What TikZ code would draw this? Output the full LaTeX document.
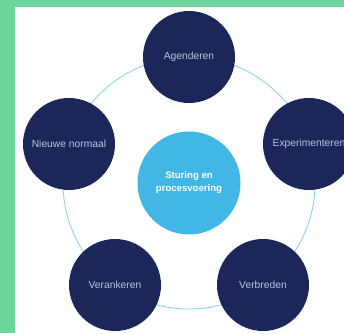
\documentclass[tikz,border=0pt]{standalone}
\usepackage{fontspec}
\setmainfont{Liberation Sans}
\definecolor{bggreen}{HTML}{6DD49B}
\definecolor{navy}{HTML}{1B2759}
\definecolor{skyblue}{HTML}{42B6E5}
\definecolor{ringblue}{HTML}{8ED2F0}
\definecolor{labelgrey}{HTML}{BCC2DC}
\begin{document}
\begin{tikzpicture}[x=1pt,y=1pt,
  phase/.style={circle,fill=navy,minimum size=92pt,inner sep=0pt,text=labelgrey,font=\fontsize{10.3}{12}\selectfont},
  core/.style={circle,fill=skyblue,minimum size=103pt,inner sep=0pt,text=white,align=center,font=\fontsize{9.6}{13}\selectfont\bfseries}]
\useasboundingbox (0,0) rectangle (344,333);
\clip (0,0) rectangle (344,333);
\fill[bggreen] (0,0) rectangle (344,333);
\fill[white] (15,0) rectangle (344,326);
\coordinate (c) at (189,150);
\draw[ringblue,line width=0.9pt] (c) circle[radius=126];
\node[core] (mid) at (c) {Sturing en\\procesvoering};
\node[phase] (agenderen) at (189,276) {Agenderen};
\node[phase] (experimenteren) at (309,189) {Experimenteren};
\node[phase] (verbreden) at (263,48) {Verbreden};
\node[phase] (verankeren) at (115,48) {Verankeren};
\node[phase] (nieuwe) at (69,189) {Nieuwe normaal};
\end{tikzpicture}
\end{document}
